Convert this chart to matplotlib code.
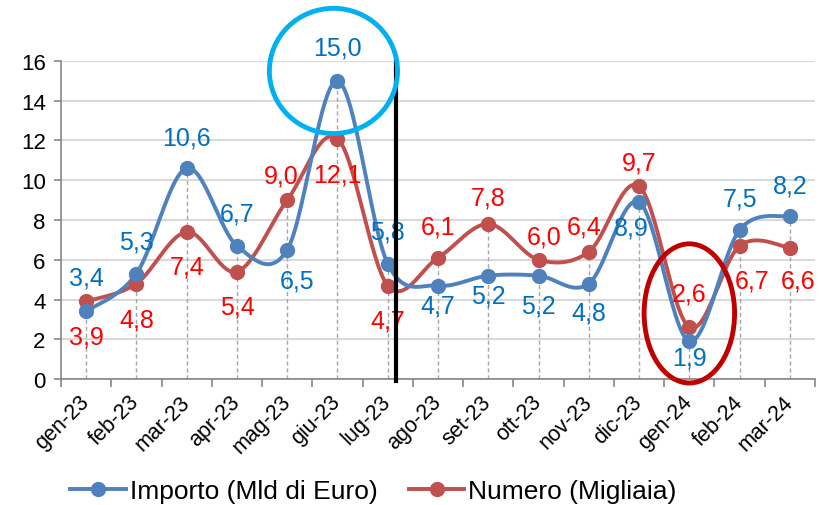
import numpy as np
import matplotlib.pyplot as plt
from matplotlib.patches import Ellipse

plt.rcParams['font.family'] = ['Liberation Sans', 'DejaVu Sans']

mesi = ["gen-23", "feb-23", "mar-23", "apr-23", "mag-23", "giu-23", "lug-23",
        "ago-23", "set-23", "ott-23", "nov-23", "dic-23", "gen-24", "feb-24", "mar-24"]
importo = [3.4, 5.3, 10.6, 6.7, 6.5, 15.0, 5.8, 4.7, 5.2, 5.2, 4.8, 8.9, 1.9, 7.5, 8.2]
numero = [3.9, 4.8, 7.4, 5.4, 9.0, 12.1, 4.7, 6.1, 7.8, 6.0, 6.4, 9.7, 2.6, 6.7, 6.6]

# data label offsets in pixels (dx, dy; dy > 0 means above the point)
off_importo = [(0, 34), (0, 32), (0, 31), (0, 32), (10, -31), (0, 33), (0, 32), (0, -20),
               (0, -20), (0, -30), (0, -29), (-8, -25), (0, -16), (0, 31), (0, 31)]
off_numero = [(0, -35), (0, -36), (0, -35), (0, -35), (-6, 25), (0, -36), (0, -35), (0, 31),
              (0, 26), (6, 23), (-5, 25), (0, 24), (0, 34), (12, -35), (8, -33)]

blue_line, red_line = "#4F81BD", "#C0504D"
blue_txt, red_txt = "#0070C0", "#FF0000"


def smooth(y, n=30):
    # Excel-like bezier smoothing between consecutive points
    y = np.asarray(y, float)
    x = np.arange(len(y), dtype=float)
    P = np.column_stack([x, y])
    out = []
    for i in range(len(P) - 1):
        p0 = P[i - 1] if i > 0 else P[i]
        p1, p2 = P[i], P[i + 1]
        p3 = P[i + 2] if i + 2 < len(P) else P[i + 1]
        c1 = p1 + (p2 - p0) / 6
        c2 = p2 - (p3 - p1) / 6
        t = np.linspace(0, 1, n)[:, None]
        seg = (1 - t) ** 3 * p1 + 3 * (1 - t) ** 2 * t * c1 + 3 * (1 - t) * t ** 2 * c2 + t ** 3 * p2
        out.append(seg)
    out = np.vstack(out)
    return out[:, 0], out[:, 1]


fig = plt.figure(figsize=(8.21, 5.06), dpi=100)
ax = fig.add_axes([0.0743, 0.249, 0.9184, 0.6285])

x = np.arange(len(mesi))
ax.set_xlim(-0.5, len(mesi) - 0.5)
ax.set_ylim(0, 16)
ax.set_yticks(range(0, 17, 2))
ax.grid(axis="y", color="#D9D9D9", lw=1.5)
ax.set_axisbelow(True)

# drop lines
top = np.maximum(importo, numero)
ax.vlines(x, 0, top, colors="#A6A6A6", linestyles=(0, (3, 2)), lw=1, zorder=1)

for vals, col in [(numero, red_line), (importo, blue_line)]:
    sx, sy = smooth(vals)
    ax.plot(sx, sy, color=col, lw=2.8, zorder=3)
    ax.plot(x, vals, "o", color=col, ms=10, zorder=4)

for vals, offs, col in [(importo, off_importo, blue_txt), (numero, off_numero, red_txt)]:
    for xi, v, (dx, dy) in zip(x, vals, offs):
        ax.annotate(f"{v:.1f}".replace(".", ","), (xi, v), xytext=(dx, dy), textcoords="offset pixels",
                    ha="center", va="center", color=col, fontsize=18, zorder=5)

# spines and ticks
for s in ["top", "right"]:
    ax.spines[s].set_visible(False)
for s in ["left", "bottom"]:
    ax.spines[s].set_color("#868686")
    ax.spines[s].set_linewidth(1.2)
ax.set_xticks(x)
ax.set_xticklabels(mesi, rotation=45, ha="right", va="center", rotation_mode="anchor", fontsize=15.5)
ax.tick_params(axis="x", length=0, pad=14)
ax.set_xticks(np.arange(-0.5, len(mesi), 1), minor=True)
ax.tick_params(axis="x", which="minor", length=6, color="#868686", width=1.2)
ax.tick_params(axis="y", labelsize=16, length=5, color="#868686", width=1.2, pad=6)

# separator and highlights
ax.plot([6.16, 6.16], [-0.1, 16.2], color="black", lw=3, clip_on=False, zorder=6)
ax.add_patch(Ellipse((4.92, 15.5), 2.55, 6.3, fill=False, ec="#00B0F0", lw=3.5, clip_on=False, zorder=6))
ax.add_patch(Ellipse((12.0, 3.3), 1.8, 7.0, fill=False, ec="#C00000", lw=3.5, clip_on=False, zorder=6))

h1, = ax.plot([], [], "-o", color=blue_line, lw=2.8, ms=10)
h2, = ax.plot([], [], "-o", color=red_line, lw=2.8, ms=10)
fig.legend([h1, h2], ["Importo (Mld di Euro)", "Numero (Migliaia)"], loc="center",
           bbox_to_anchor=(0.455, 0.028), ncol=2, frameon=False, fontsize=19,
           handlelength=2.1, columnspacing=1.2, handletextpad=0.15)

fig.savefig("out.png", dpi=100)
